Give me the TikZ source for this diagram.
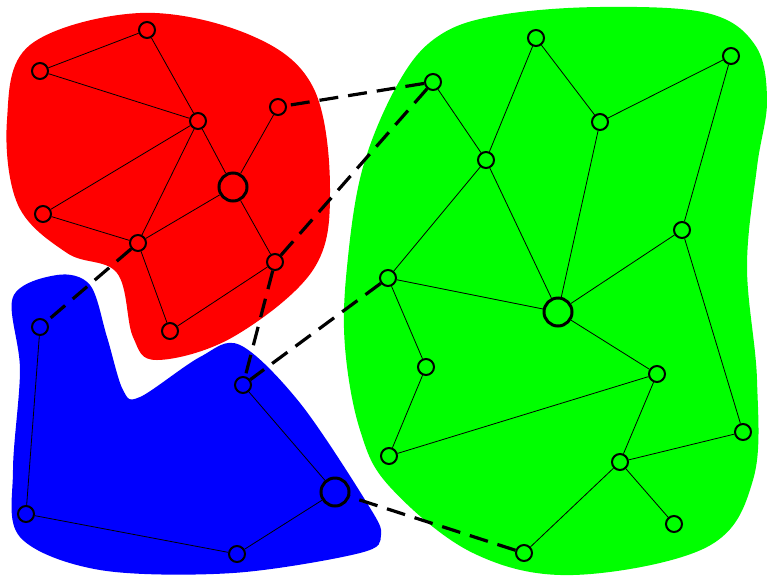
\documentclass[tikz,border=0pt]{standalone}
\begin{document}
\begin{tikzpicture}[x=1pt,y=-1pt,
  vtx/.style={circle,draw=black,line width=2pt,minimum size=16pt,inner sep=0pt},
  hub/.style={circle,draw=black,line width=3pt,minimum size=28pt,inner sep=0pt},
  link/.style={black,line width=0.8pt},
  bridge/.style={black,line width=3.2pt,dash pattern=on 19pt off 10pt}]
\useasboundingbox (0,0) rectangle (767,576);
% blobs
\fill[red] plot[smooth cycle,tension=0.6] coordinates {(7,120) (30,45) (140,13) (250,35) (313,87) (330,190) (313,270) (233,337) (157,360) (133,337) (117,273) (67,253) (18,205)};
\fill[blue] plot[smooth cycle,tension=0.55] coordinates {(13,297) (57,275) (90,285) (107,337) (123,390) (140,397) (200,357) (240,345) (300,403) (367,503) (381,535) (360,553) (233,573) (100,570) (20,537) (13,470) (20,370)};
\fill[green] plot[smooth cycle,tension=0.6] coordinates {(600,7) (707,13) (755,45) (767,100) (757,167) (747,267) (757,380) (753,480) (707,547) (573,575) (473,553) (390,487) (360,430) (345,347) (347,267) (363,167) (400,80) (440,35) (500,15)};
% red nodes
\node[vtx] (r1) at (147,30) {};
\node[vtx] (r2) at (40,71) {};
\node[vtx] (r3) at (198,121) {};
\node[vtx] (r4) at (278,107) {};
\node[hub] (r5) at (233,187) {};
\node[vtx] (r6) at (43,214) {};
\node[vtx] (r7) at (138,243) {};
\node[vtx] (r8) at (275,262) {};
\node[vtx] (r9) at (170,331) {};
% blue nodes
\node[vtx] (b1) at (40,327) {};
\node[vtx] (b2) at (243,385) {};
\node[hub] (b3) at (335,492) {};
\node[vtx] (b4) at (26,514) {};
\node[vtx] (b5) at (237,554) {};
% green nodes
\node[vtx] (g1) at (433,82) {};
\node[vtx] (g2) at (536,38) {};
\node[vtx] (g3) at (731,56) {};
\node[vtx] (g4) at (600,122) {};
\node[vtx] (g5) at (486,160) {};
\node[vtx] (g6) at (682,230) {};
\node[vtx] (g7) at (388,278) {};
\node[hub] (g8) at (558,312) {};
\node[vtx] (g9) at (426,367) {};
\node[vtx] (g10) at (657,374) {};
\node[vtx] (g11) at (389,456) {};
\node[vtx] (g12) at (743,432) {};
\node[vtx] (g13) at (620,462) {};
\node[vtx] (g14) at (674,524) {};
\node[vtx] (g15) at (524,553) {};
% red edges
\draw[link] (r1)--(r2) (r1)--(r3) (r2)--(r3) (r3)--(r5) (r3)--(r6) (r3)--(r7)
  (r4)--(r5) (r5)--(r7) (r5)--(r8) (r6)--(r7) (r7)--(r9) (r9)--(r8);
% blue edges
\draw[link] (b1)--(b4) (b4)--(b5) (b5)--(b3) (b3)--(b2);
% green edges
\draw[link] (g1)--(g5) (g2)--(g5) (g2)--(g4) (g4)--(g3) (g3)--(g6) (g5)--(g7)
  (g5)--(g8) (g4)--(g8) (g6)--(g8) (g7)--(g8) (g6)--(g12) (g7)--(g9) (g9)--(g11)
  (g11)--(g10) (g8)--(g10) (g10)--(g13) (g13)--(g12) (g13)--(g14) (g13)--(g15);
% bridges
\draw[bridge] (g1)--(r4);
\draw[bridge] (g1)--(r8);
\draw[bridge] (r7)--(b1);
\draw[bridge] (r8)--(b2);
\draw[bridge] (g7)--(b2);
\draw[bridge] (g15)--(b3);
\end{tikzpicture}
\end{document}
